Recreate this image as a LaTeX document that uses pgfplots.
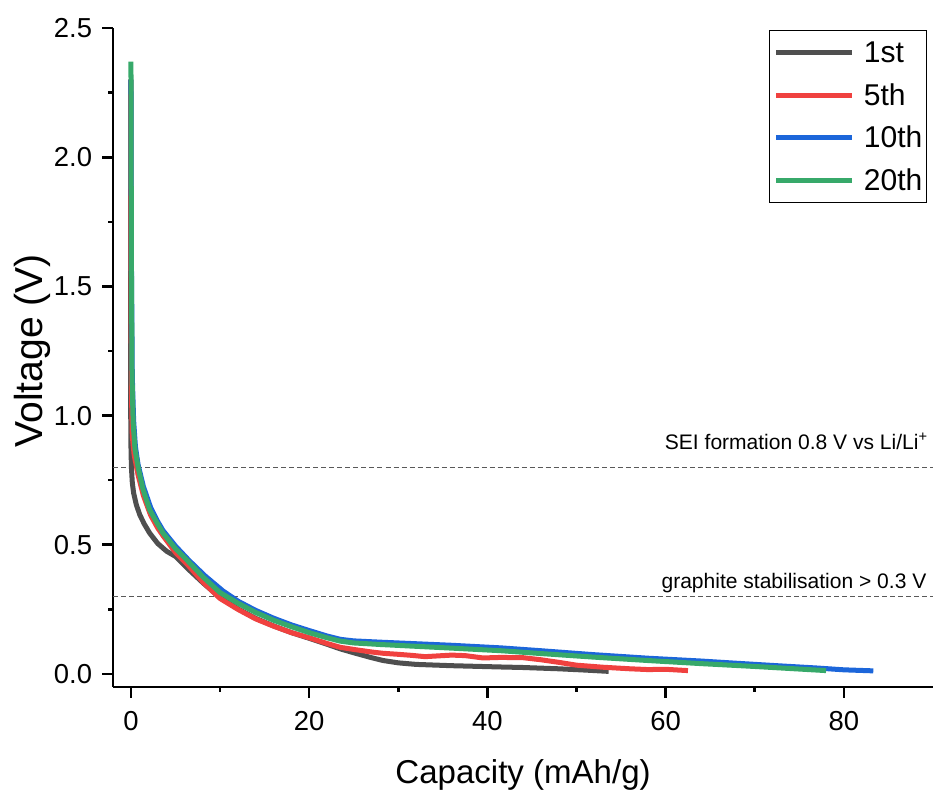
\documentclass[border=0pt]{standalone}
\usepackage{fontspec}
\setmainfont{Liberation Sans}
\usepackage{pgfplots}
\pgfplotsset{compat=1.18}
\definecolor{c1}{HTML}{4F4F4F}
\definecolor{c5}{HTML}{F0413F}
\definecolor{c10}{HTML}{1C66DA}
\definecolor{c20}{HTML}{37A96A}
\begin{document}
\begin{tikzpicture}
\begin{axis}[name=ax,
  scale only axis, width=409.4pt, height=329pt,
  xmin=-2, xmax=90, ymin=-0.05, ymax=2.5,
  axis x line*=bottom, axis y line*=left,
  axis line style={line width=1.3pt, -},
  tick align=outside,
  major tick length=5.5pt, minor tick length=2.5pt,
  every tick/.style={black, line width=1.3pt},
  xtick={0,20,40,60,80}, minor x tick num=1,
  ytick={0,0.5,1,1.5,2,2.5}, minor y tick num=1,
  /pgf/number format/assume math mode=true,
  yticklabel style={/pgf/number format/fixed, /pgf/number format/fixed zerofill, /pgf/number format/precision=1, xshift=-1.5pt},
  ticklabel style={font=\fontsize{13.7}{16}\selectfont},
  xticklabel style={yshift=-3pt},
  xlabel={Capacity (mAh/g)}, ylabel={Voltage (V)},
  xlabel style={font=\fontsize{16.5}{20}\selectfont, at={(axis description cs:0.5,0)}, anchor=base, yshift=-48pt},
  ylabel style={font=\fontsize{19.5}{23}\selectfont, at={(axis description cs:0,0.51)}, anchor=base, rotate=0, yshift=35.5pt},
  legend style={at={(1,1)}, anchor=north east, xshift=-3pt, yshift=-1pt,
    draw=black, line width=0.6pt, inner xsep=2pt, inner ysep=4pt,
    font=\fontsize{15}{18}\selectfont, row sep=7.25pt,
    nodes={inner sep=0pt, text height=12pt, text depth=2pt}},
  legend cell align=left,
  /tikz/every odd column/.append style={column sep=4.5pt},
  legend image code/.code={\draw[#1, line width=2.5pt] (0pt,0pt) -- (38pt,0pt);},
  every axis plot/.append style={line width=2.5pt, line join=round},
]
\addplot[forget plot, color=black!65, dash pattern=on 2.5pt off 1.5pt, line width=0.6pt] coordinates {(-2,0.8) (90,0.8)};
\addplot[forget plot, color=black!65, dash pattern=on 2.5pt off 1.5pt, line width=0.6pt] coordinates {(-2,0.3) (90,0.3)};
\addplot[c1] coordinates {
(-0.05,2.3) (-0.05,1.6) (-0.05,1.1) (0,0.88) (0.05,0.8) (0.15,0.74) (0.3,0.7) (0.6,0.655) (1.0,0.615) (1.5,0.58) (2.1,0.545) (3.0,0.505) (4.0,0.475) (5,0.455) (6.3,0.41) (8.1,0.352) (10,0.295) (12,0.252) (14,0.215) (16,0.186) (18,0.16) (20,0.138) (22,0.115) (23.5,0.097) (25,0.082) (27,0.063) (28.3,0.052) (30,0.043) (32,0.037) (36,0.032) (41.5,0.027) (44,0.025) (48,0.02) (51,0.015) (53.6,0.01)};
\addlegendentry{1st}
\addplot[c5] coordinates {
(0,2.3) (0,1.6) (0.05,1.1) (0.15,0.92) (0.35,0.85) (0.8,0.77) (1.4,0.69) (2.2,0.615) (3.0,0.565) (3.6,0.535) (5,0.47) (6.3,0.425) (8.1,0.355) (10,0.292) (12,0.25) (14,0.213) (16,0.185) (18,0.16) (20,0.14) (22,0.118) (23.5,0.103) (25,0.095) (27,0.085) (28.3,0.08) (30,0.076) (31.5,0.072) (33,0.067) (34.5,0.07) (36,0.073) (37.5,0.071) (39.5,0.062) (41.5,0.064) (44,0.063) (46,0.055) (48,0.045) (50,0.034) (53,0.026) (56,0.02) (58,0.017) (60,0.018) (62.5,0.013)};
\addlegendentry{5th}
\addplot[c10] coordinates {
(0,2.3) (0.05,1.6) (0.15,1.15) (0.3,0.98) (0.5,0.88) (0.8,0.81) (1.4,0.725) (2.2,0.645) (3.0,0.59) (3.6,0.555) (5,0.495) (6.5,0.44) (8.3,0.38) (10.3,0.322) (12,0.282) (14,0.246) (16,0.216) (18,0.19) (20,0.168) (22,0.147) (23.5,0.134) (25,0.128) (28,0.123) (32,0.117) (36,0.111) (41.5,0.101) (46,0.09) (51.8,0.075) (58,0.061) (64,0.05) (67.7,0.042) (72,0.033) (77,0.023) (80,0.016) (83.3,0.012)};
\addlegendentry{10th}
\addplot[c20] coordinates {
(0,2.37) (0.05,1.6) (0.12,1.15) (0.25,0.97) (0.45,0.87) (0.8,0.8) (1.35,0.715) (2.1,0.635) (3.0,0.58) (3.6,0.545) (5,0.485) (6.3,0.44) (8.1,0.375) (10,0.315) (12,0.274) (14,0.238) (16,0.208) (18,0.183) (20,0.16) (22,0.14) (23.5,0.127) (25,0.12) (28,0.114) (32,0.107) (36,0.1) (41.5,0.09) (46,0.079) (52,0.065) (58,0.052) (64,0.04) (70,0.029) (75,0.019) (78,0.013)};
\addlegendentry{20th}
\node[anchor=base east, font=\fontsize{10.5}{12}\selectfont, inner sep=0pt, yshift=9pt] at (axis cs:89.5,0.8) {SEI formation 0.8 V vs Li/Li\textsuperscript{+}};
\node[anchor=base east, font=\fontsize{10.5}{12}\selectfont, inner sep=0pt, yshift=4pt] at (axis cs:89.3,0.3) {graphite stabilisation > 0.3 V};
\end{axis}
\pgfresetboundingbox
\path ([shift={(-56.5pt,-52pt)}]ax.south west) rectangle ([shift={(1pt,14pt)}]ax.north east);
\end{tikzpicture}
\end{document}
